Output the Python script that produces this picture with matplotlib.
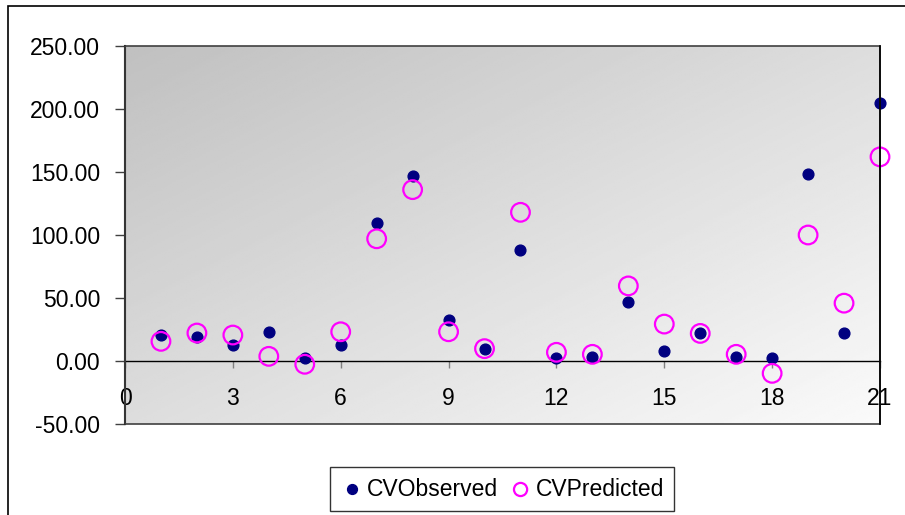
import numpy as np
import matplotlib
matplotlib.use('Agg')
import matplotlib.pyplot as plt
from matplotlib.patches import Rectangle

plt.rcParams['font.family'] = ['Liberation Sans', 'DejaVu Sans']

# data
idx = list(range(1, 22))
cv_observed = [20.8, 19.2, 12.9, 23.2, 2.4, 12.7, 109.2, 146.9, 32.7, 9.8, 88.0,
               2.4, 2.9, 47.2, 8.2, 21.9, 2.9, 2.1, 148.2, 21.9, 204.4]
cv_predicted = [15.6, 22.2, 20.6, 3.7, -2.6, 23.2, 97.0, 136.0, 23.2, 9.8, 118.0,
                6.9, 5.3, 59.6, 29.3, 21.9, 5.3, -9.8, 100.0, 45.9, 162.0]
x_ticks = [0, 3, 6, 9, 12, 15, 18, 21]
y_ticks = [-50, 0, 50, 100, 150, 200, 250]

fig = plt.figure(figsize=(9.05, 5.15), dpi=100)
ax = fig.add_axes([125 / 905, 91 / 515, 755 / 905, 378 / 515])

# diagonal grey gradient: dark top-left -> light bottom-right
n = 200
u, v = np.meshgrid(np.linspace(0, 1, n), np.linspace(0, 1, n))
shade = 192 + 58 * (u + v) / 2  # row 0 = top (origin upper)
ax.imshow(shade / 255, cmap='gray', vmin=0, vmax=1, extent=[0, 1, 0, 1],
          transform=ax.transAxes, aspect='auto', zorder=0, origin='upper')

ax.scatter(idx, cv_observed, s=60, color='#000080', label='CVObserved', zorder=3,
           clip_on=False)
ax.scatter(idx, cv_predicted, s=180, facecolors='none', edgecolors='#FF00FF',
           linewidths=1.6, label='CVPredicted', zorder=4, clip_on=False)

ax.set_xlim(0, 21)
ax.set_ylim(-50, 250)
ax.set_xticks(x_ticks)
ax.set_yticks(y_ticks)
ax.set_yticklabels([f'{t:.2f}' for t in y_ticks])

for side in ['top', 'right']:
    ax.spines[side].set_visible(False)
ax.spines['bottom'].set_position(('data', 0))
ax.spines['bottom'].set_color('black')
ax.spines['bottom'].set_linewidth(1.0)
ax.spines['left'].set_color('black')
ax.spines['left'].set_linewidth(1.5)

ax.tick_params(axis='y', direction='out', length=7, width=1, color='#404040',
               labelsize=16.5, pad=11)
ax.tick_params(axis='x', direction='out', length=5, width=1, color='#808080',
               labelsize=16.5, pad=14)

# plot area border
ax.add_patch(Rectangle((0, 0), 1, 1, transform=ax.transAxes, fill=False,
                       edgecolor='#404040', linewidth=1.2, zorder=5, clip_on=False))
ax.plot([1, 1], [0, 1], transform=ax.transAxes, color='black', lw=1.2,
        zorder=6, clip_on=False)

# outer chart border
fig.add_artist(Rectangle((8 / 905, -0.2), 1.2, 1.2 - 6 / 515,
                         transform=fig.transFigure, fill=False,
                         edgecolor='black', linewidth=1.2))

leg = fig.legend(loc='center', bbox_to_anchor=(502 / 905, 26 / 515), ncol=2,
                 fontsize=16.5, frameon=True, fancybox=False, edgecolor='black',
                 handletextpad=0.15, columnspacing=0.5, borderpad=0.45,
                 handlelength=1.0)
leg.get_frame().set_linewidth(1.0)
leg.legend_handles[0].set_sizes([50])
leg.legend_handles[1].set_sizes([90])

fig.savefig('out.png', dpi=100)
